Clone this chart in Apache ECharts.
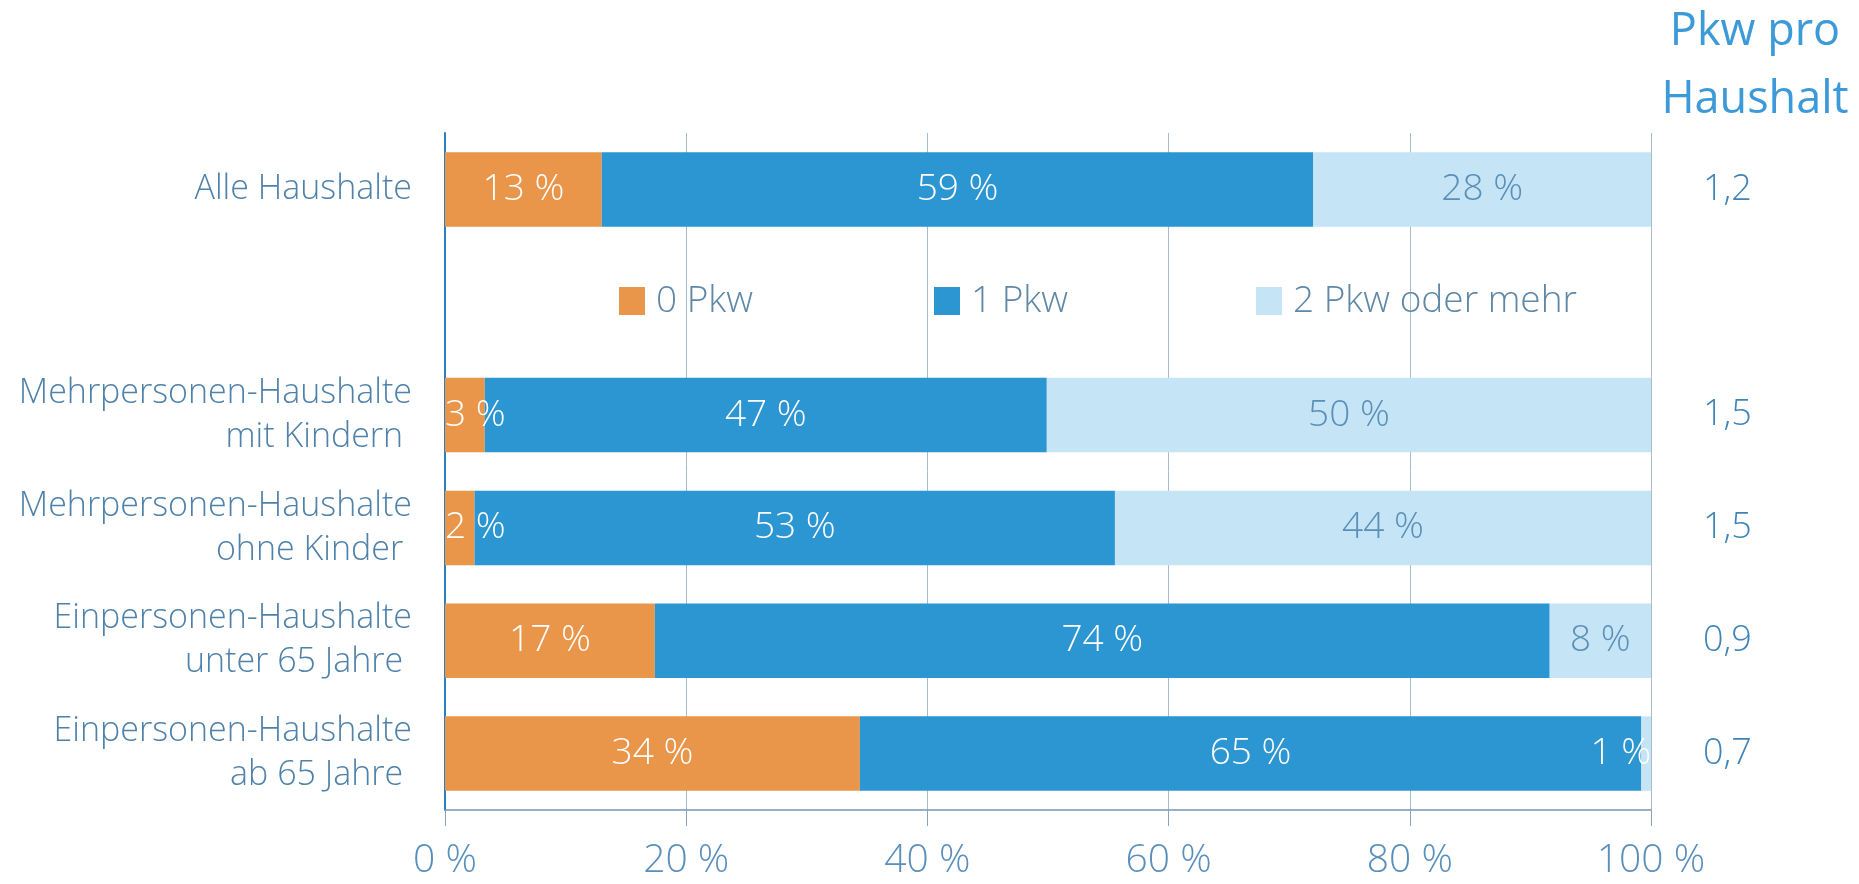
<!DOCTYPE html>
<html>
<head>
<meta charset="utf-8">
<script src="https://cdn.jsdelivr.net/npm/echarts@6/dist/echarts.min.js"></script>
<style>
html,body{margin:0;padding:0;background:#fff;}
#chart{width:1859px;height:884px;}
</style>
</head>
<body>
<div id="chart"></div>
<script>
const categories = [
  'Alle Haushalte',
  '',
  'Mehrpersonen-Haushalte\nmit Kindern ',
  'Mehrpersonen-Haushalte\nohne Kinder ',
  'Einpersonen-Haushalte\nunter 65 Jahre ',
  'Einpersonen-Haushalte\nab 65 Jahre '
];
const seriesNames = ['0 Pkw', '1 Pkw', '2 Pkw oder mehr'];
const pkw0 = [13, null, 3.3, 2.45, 17.4, 34.4];
const pkw1 = [59, null, 46.6, 53.1, 74.2, 64.8];
const pkw2 = [28, null, 50.1, 44.45, 8.4, 0.8];
const pkwPerHousehold = ['1,2', '', '1,5', '1,5', '0,9', '0,7'];
const xTickValues = [0, 20, 40, 60, 80, 100];
const rightTitle = 'Pkw pro\nHaushalt';

const FONT = '"Open Sans", "DejaVu Sans", sans-serif';
const colors = ['#e9954a', '#2b96d1', '#c5e5f6'];
const labelColors = ['#ffffff', '#ffffff', '#5a8fb8'];
const values = [pkw0, pkw1, pkw2];

const chart = echarts.init(document.getElementById('chart'));

const series = seriesNames.map((name, si) => ({
  name: name,
  type: 'bar',
  stack: 'total',
  yAxisIndex: 0,
  barWidth: '66%',
  itemStyle: { color: colors[si] },
  label: {
    show: true,
    position: 'inside',
    fontFamily: FONT,
    fontWeight: 300,
    fontSize: 37,
    color: labelColors[si],
    formatter: p => (p.value == null ? '' : Math.round(p.value) + ' %')
  },
  data: values[si].map(v => {
    if (v == null) return '-';
    if (si === 2 && v < 2) {
      return { value: v, label: { position: 'insideRight', distance: 0, color: '#ffffff' } };
    }
    if (si === 0 && v < 5) {
      return { value: v, label: { position: 'insideLeft', distance: 0 } };
    }
    return v;
  })
}));

const legendLefts = [614, 929, 1251];

const option = {
  animation: false,
  backgroundColor: '#ffffff',
  textStyle: { fontFamily: FONT },
  grid: { left: 445, right: 208, top: 133, bottom: 74, containLabel: false },
  legend: seriesNames.map((n, i) => ({
    data: [n],
    left: legendLefts[i],
    top: 276,
    icon: 'rect',
    itemWidth: 26,
    itemHeight: 28,
    itemGap: 0,
    selectedMode: false,
    textStyle: { fontFamily: FONT, fontWeight: 300, fontSize: 37, lineHeight: 40, color: '#5f87a6', padding: [0, 0, 0, 6] }
  })),
  xAxis: {
    type: 'value',
    min: xTickValues[0],
    max: xTickValues[xTickValues.length - 1],
    interval: xTickValues[1] - xTickValues[0],
    axisLine: { show: true, lineStyle: { color: '#7397b5', width: 1.5 } },
    axisTick: { show: true, length: 16, lineStyle: { color: '#8aa5bb' } },
    axisLabel: {
      margin: 31,
      fontFamily: FONT,
      fontWeight: 300,
      fontSize: 39,
      color: '#5a8fbc',
      formatter: v => v + ' %'
    },
    splitLine: { show: true, lineStyle: { color: '#a9bccb', width: 1 } }
  },
  yAxis: [
    {
      type: 'category',
      inverse: true,
      data: categories,
      axisLine: { show: true, lineStyle: { color: '#2a7fc0', width: 2 } },
      axisTick: { show: false },
      axisLabel: {
        margin: 33,
        fontFamily: FONT,
        fontWeight: 300,
        fontSize: 34,
        lineHeight: 44,
        color: '#4f82ab',
        align: 'right'
      },
      splitLine: { show: false }
    },
    {
      type: 'category',
      inverse: true,
      position: 'right',
      data: pkwPerHousehold,
      axisLine: { show: false },
      axisTick: { show: false },
      axisLabel: {
        margin: 52,
        fontFamily: FONT,
        fontWeight: 300,
        fontSize: 36,
        color: '#3f84b6'
      },
      splitLine: { show: false }
    }
  ],
  graphic: [{
    type: 'text',
    x: 1755,
    y: -2,
    style: {
      text: rightTitle,
      textAlign: 'center',
      textVerticalAlign: 'top',
      fontFamily: FONT,
      fontSize: 45,
      lineHeight: 68,
      fill: '#3d9ad8'
    }
  }],
  series: series
};

chart.setOption(option);
</script>
</body>
</html>
